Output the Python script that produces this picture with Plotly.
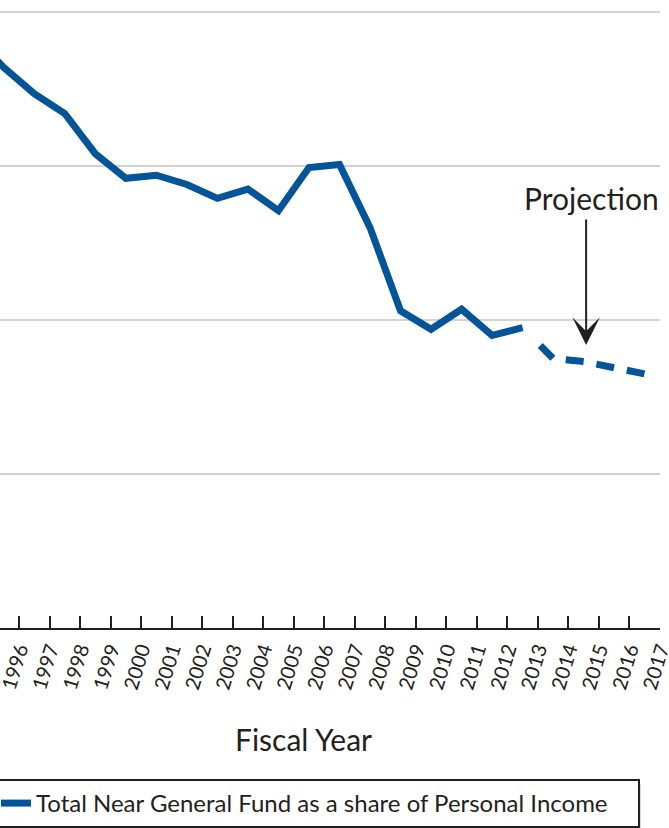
import plotly.graph_objects as go

# Data
fiscal_years = [1995, 1996, 1997, 1998, 1999, 2000, 2001, 2002, 2003, 2004, 2005,
                2006, 2007, 2008, 2009, 2010, 2011, 2012, 2013]
share_actual = [6.85, 6.64, 6.47, 6.34, 6.08, 5.92, 5.94, 5.88, 5.79, 5.85, 5.71,
                5.99, 6.01, 5.60, 5.06, 4.94, 5.07, 4.90, 4.95]
proj_years = [2013, 2014, 2015, 2016, 2017]
share_proj = [4.95, 4.75, 4.73, 4.69, 4.65]
tick_years = list(range(1996, 2018))
tick_labels = [str(y) for y in tick_years]
series_name = "Total Near General Fund as a share of Personal Income"

LINE_COLOR = "#045499"
TEXT_COLOR = "#231f20"
FONT = "Lato"

W, H = 669, 828
PLOT_W, PLOT_H = 660, 628

def px_x(px):
    return px / PLOT_W

def px_y(py):
    return (PLOT_H - py) / PLOT_H

fig = go.Figure()
fig.add_trace(go.Scatter(
    x=[y - 0.5 for y in fiscal_years], y=share_actual, mode="lines",
    line=dict(color=LINE_COLOR, width=7),
    name=series_name + "\u00a0" * 4,   # trailing padding widens the legend box
    showlegend=True, hoverinfo="skip"))
fig.add_trace(go.Scatter(
    x=[y - 0.5 for y in proj_years], y=share_proj, mode="lines",
    line=dict(color=LINE_COLOR, width=7,
              dash="0px,25px,18px,13px,18px,13px,18px,13px,18px,13px"),
    showlegend=False, hoverinfo="skip"))

fig.add_annotation(x=2014.58, y=4.838, xref="x", yref="y", text="",
                   showarrow=True, ax=0, ay=-127, axref="pixel", ayref="pixel",
                   arrowhead=3, arrowsize=2.3, arrowwidth=2, arrowcolor=TEXT_COLOR)
fig.add_annotation(x=2014.75, y=5.792, xref="x", yref="y", text="Projection",
                   showarrow=False, yanchor="middle", xanchor="center",
                   font=dict(family=FONT, size=30, color=TEXT_COLOR))
fig.add_annotation(x=px_x(303), y=px_y(739), xref="paper", yref="paper",
                   text="Fiscal Year", showarrow=False, yanchor="middle",
                   xanchor="center",
                   font=dict(family=FONT, size=30, color=TEXT_COLOR))

# legend drop shadow
LEG_L, LEG_R, LEG_T, LEG_B = -6, 636, 779, 826
for off, col in [(5, "rgba(0,0,0,0.15)"), (3, "rgba(0,0,0,0.32)")]:
    fig.add_shape(type="rect", xref="paper", yref="paper",
                  x0=px_x(LEG_L + off), x1=px_x(LEG_R + off),
                  y0=px_y(LEG_T + off), y1=px_y(LEG_B + off),
                  line=dict(width=0), fillcolor=col, layer="above")

fig.update_layout(
    width=W, height=H,
    margin=dict(l=0, r=W - PLOT_W, t=0, b=H - PLOT_H, autoexpand=False),
    paper_bgcolor="white", plot_bgcolor="white",
    font=dict(family=FONT, color=TEXT_COLOR),
    xaxis=dict(range=[1995.378, 2017], tickmode="array", tickvals=tick_years,
               ticktext=tick_labels, tickangle=-73, ticks="inside", ticklen=12,
               tickwidth=2, tickcolor=TEXT_COLOR, showline=True, linewidth=2,
               linecolor=TEXT_COLOR, showgrid=False, zeroline=False,
               ticklabeloverflow="allow",
               tickfont=dict(family=FONT, size=20, color=TEXT_COLOR)),
    yaxis=dict(range=[3, 7.078], dtick=1, tick0=3, showticklabels=False,
               showgrid=True, gridcolor="#d3d3d3", gridwidth=2, zeroline=False,
               showline=False, ticks=""),
    legend=dict(x=px_x(LEG_L), y=px_y(LEG_T), xanchor="left", yanchor="top",
                bgcolor="white", bordercolor=TEXT_COLOR, borderwidth=2,
                font=dict(family=FONT, size=24, color=TEXT_COLOR)),
)

fig.write_html("out.html", config={"displayModeBar": False},
               post_script="document.body.style.margin='0';document.body.style.overflow='hidden';")
